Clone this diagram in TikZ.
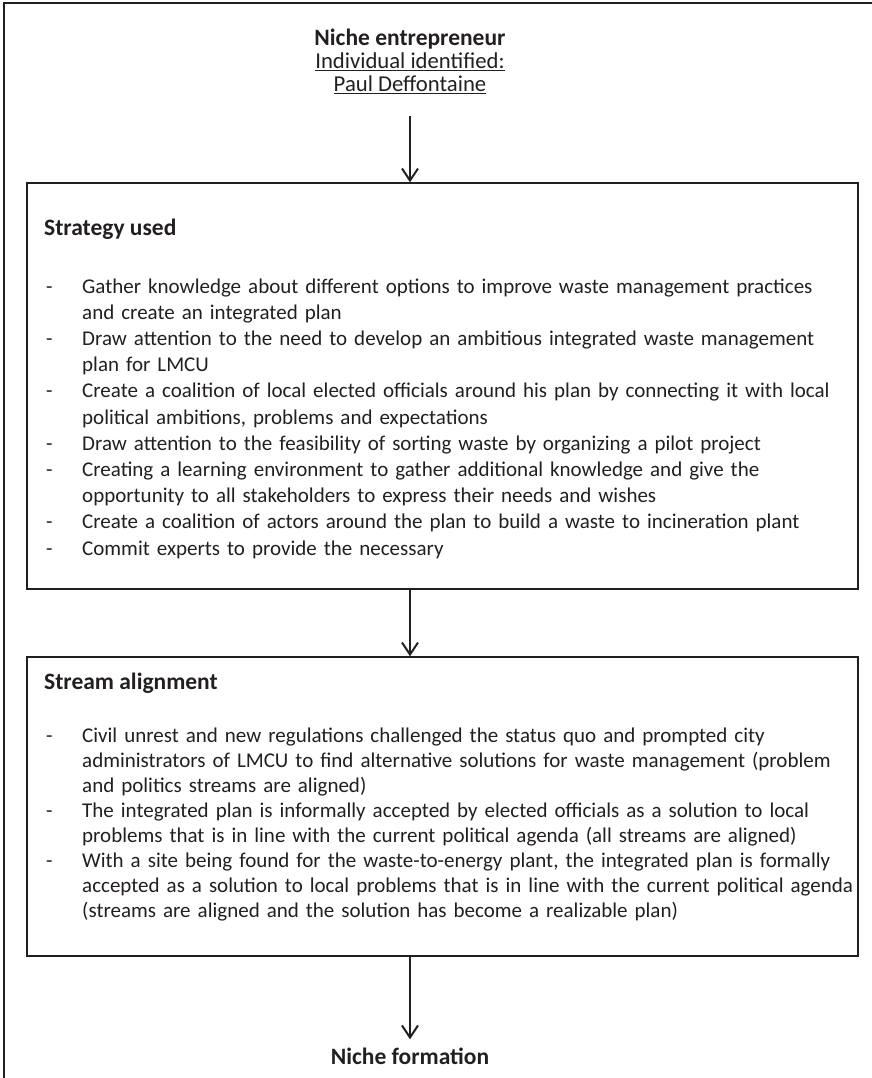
\documentclass[tikz,border=0pt]{standalone}
\usepackage{fontspec}
\setmainfont{Carlito}
\usetikzlibrary{arrows.meta, positioning}
\definecolor{ink}{RGB}{35,31,32}
\newcommand{\dashitem}{\makebox[36pt][l]{-}}
\newcommand{\contline}{\hspace*{36pt}}

\begin{document}
\begin{tikzpicture}[
  x=1pt, y=-1pt,
  every node/.style={inner sep=0pt, text=ink},
  top/.style={font=\fontsize{22.7pt}{27pt}\selectfont},
  head/.style={font=\fontsize{23.5pt}{28pt}\selectfont\bfseries},
  box/.style={draw=ink, line width=1.3pt, minimum width=831pt},
  list/.style={text width=820pt, align=left, anchor=base west},
  flow/.style={->, draw=ink, line width=2pt},
  >={Straight Barb[length=12pt, width=16pt]}
]
\useasboundingbox (0,0) rectangle (872,1078);
% Frame
\draw[ink, line width=2pt] (4,1078) -- (4,3) -- (872,3);
% Nodes
\node[head, anchor=base] (entre) at (410,46) {Niche entrepreneur};
\node[top, anchor=base] (indiv) at (410,69) {\underline{Individual identified:}};
\node[top, anchor=base] (paul) at (410,92) {\underline{Paul Deffontaine}};

\node[box, minimum height=406pt] (strategy) at (442.5,386) {};
\node[head, anchor=base west] (strattitle) at (44,235) {Strategy used};
\node[list, font=\fontsize{21pt}{26.2pt}\selectfont] (stratlist) at (46,293) {%
\dashitem Gather knowledge about different options to improve waste management practices\\
\contline and create an integrated plan\\
\dashitem Draw attention to the need to develop an ambitious integrated waste management\\
\contline plan for LMCU\\
\dashitem Create a coalition of local elected officials around his plan by connecting it with local\\
\contline political ambitions, problems and expectations\\
\dashitem Draw attention to the feasibility of sorting waste by organizing a pilot project\\
\dashitem Creating a learning environment to gather additional knowledge and give the\\
\contline opportunity to all stakeholders to express their needs and wishes\\
\dashitem Create a coalition of actors around the plan to build a waste to incineration plant\\
\dashitem Commit experts to provide the necessary};

\node[box, minimum height=299pt] (stream) at (442.5,806.5) {};
\node[head, anchor=base west] (streamtitle) at (44,689) {Stream alignment};
\node[list, font=\fontsize{21pt}{25pt}\selectfont] (streamlist) at (46,742) {%
\dashitem Civil unrest and new regulations challenged the status quo and prompted city\\
\contline administrators of LMCU to find alternative solutions for waste management (problem\\
\contline and politics streams are aligned)\\
\dashitem The integrated plan is informally accepted by elected officials as a solution to local\\
\contline problems that is in line with the current political agenda (all streams are aligned)\\
\dashitem With a site being found for the waste-to-energy plant, the integrated plan is formally\\
\contline accepted as a solution to local problems that is in line with the current political agenda\\
\contline (streams are aligned and the solution has become a realizable plan)};

\node[head, anchor=base] (formation) at (410,1064) {Niche formation};
% Arrows
\draw[flow, shorten <=22pt] (paul) -- (paul |- strategy.north);
\draw[flow] (strategy.south -| paul) -- (stream.north -| paul);
\draw[flow, shorten >=8pt] (stream.south -| paul) -- (formation);
\end{tikzpicture}
\end{document}
